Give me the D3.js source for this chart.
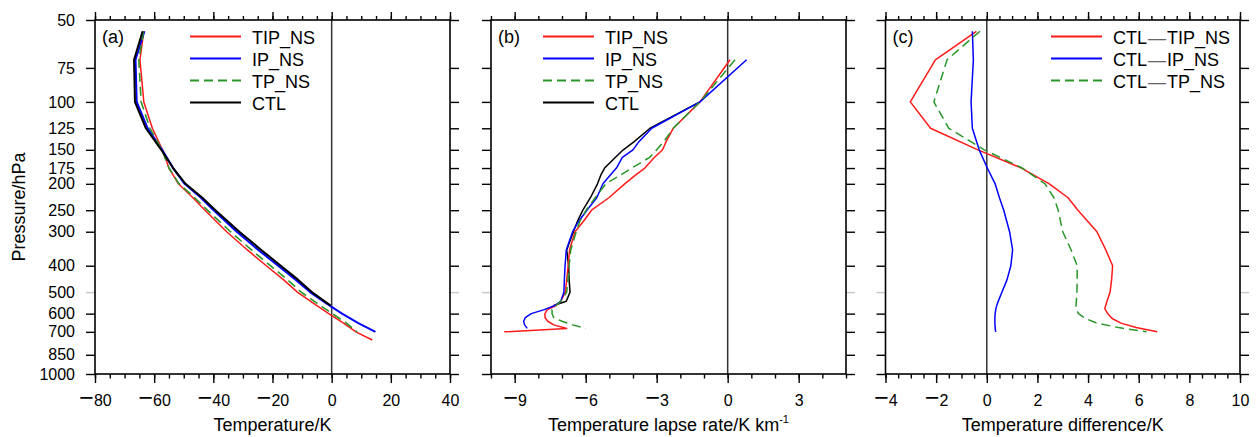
<!DOCTYPE html>
<html><head><meta charset="utf-8">
<script src="https://cdn.jsdelivr.net/npm/d3@7"></script>
<style>
body{margin:0;background:#fff;}
svg{display:block;font-family:"Liberation Sans",Arial,Helvetica,sans-serif;}
</style></head><body>
<svg id="chart" width="1259" height="437"></svg>
<script>
// ---------- data ----------
const seriesNames = ["TIP_NS", "IP_NS", "TP_NS", "CTL"];
const diffNames = [["CTL", "TIP_NS"], ["CTL", "IP_NS"], ["CTL", "TP_NS"]];
const pressureTicks = [50, 75, 100, 125, 150, 175, 200, 250, 300, 400, 500, 600, 700, 850, 1000];

// panel (a): temperature
const pA = [55, 70, 100, 125, 150, 175, 200, 225, 250, 300, 350, 400, 450, 500, 550, 560, 600, 650, 700, 750];
const tempTIP = [-63.5, -64.8, -63.5, -60.6, -57.2, -55.0, -51.8, -46.9, -42.8, -35.5, -28.5, -22.1, -16.3, -11.6, -6.1, null, -1.0, 4.0, 8.2, 13.7];
const tempIP  = [-63.3, -66.3, -65.9, -62.2, -57.3, -53.6, -49.7, -44.2, -39.9, -32.1, -24.8, -18.1, -12.2, -7.3, -1.8, null, 3.5, 9.0, 14.8, null];
const tempTP  = [-63.6, -65.2, -64.4, -61.4, -57.4, -55.0, -51.6, -46.3, -42.0, -34.2, -27.1, -20.7, -15.0, -10.3, -4.9, null, 0.2, 5.0, 8.6, null];
const tempCTL = [-63.9, -66.8, -66.5, -62.8, -57.6, -53.6, -49.4, -43.7, -39.3, -31.2, -23.8, -17.2, -11.4, -6.7, -1.4, -0.3, null, null, null, null];

// panel (b): lapse rate (K/km)
const pB = [70, 100, 125, 140, 150, 160, 175, 185, 200, 225, 250, 275, 300, 350, 400, 450, 500, 540, 560, 580, 600, 620, 640, 660, 680, 700];
const lapseTIP = [0.1, -1.17, -2.3, -2.6, -2.75, -3.1, -3.5, -3.87, -4.35, -5.02, -5.75, -6.1, -6.45, -6.68, -6.74, -6.8, -6.86, -7.05, -7.25, -7.62, -7.72, -7.72, -7.6, -7.35, -6.8, -9.44];
const lapseIP  = [0.8, -1.17, -3.21, -3.75, -4.0, -4.45, -4.7, -4.94, -5.27, -5.53, -5.95, -6.3, -6.55, -6.82, -6.87, -6.9, -6.92, -7.05, -7.3, -7.75, -8.3, -8.55, -8.62, -8.58, -8.47, null];
const lapseTP  = [0.31, -1.17, -2.3, -2.7, -3.0, -3.3, -4.05, -4.5, -5.15, -5.6, -5.98, -6.25, -6.4, -6.63, -6.7, -6.75, -6.8, -7.05, -7.25, -7.42, -7.42, -7.35, -7.0, -6.55, -6.0, null];
const lapseCTL = [null, -1.17, -3.28, -3.95, -4.41, -4.75, -5.2, -5.35, -5.5, -5.8, -6.12, -6.35, -6.52, -6.8, -6.72, -6.7, -6.66, -6.82, -7.35, null, null, null, null, null, null, null];

// panel (c): temperature difference (K)
const pC = [55, 70, 100, 125, 150, 175, 200, 225, 250, 300, 350, 400, 450, 500, 550, 575, 600, 625, 650, 675, 700];
const diffTIP = [-0.41, -2.03, -3.02, -2.22, -0.35, 1.37, 2.47, 3.21, 3.6, 4.35, 4.7, 4.97, 4.93, 4.87, 4.72, 4.66, 4.78, 4.95, 5.3, 5.9, 6.73];
const diffIP  = [-0.57, -0.53, -0.62, -0.57, -0.3, 0.02, 0.33, 0.5, 0.67, 0.9, 1.02, 0.95, 0.8, 0.6, 0.42, 0.36, 0.33, 0.32, 0.32, 0.33, 0.35];
const diffTP  = [-0.27, -1.57, -2.09, -1.5, -0.1, 1.4, 2.3, 2.65, 2.82, 3.0, 3.33, 3.57, 3.57, 3.56, 3.53, 3.52, 3.62, 3.9, 4.34, 5.2, 6.31];

// x tick values
const ticksA = [-80, -60, -40, -20, 0, 20, 40];
const ticksB = [-9, -6, -3, 0, 3];
const ticksC = [-4, -2, 0, 2, 4, 6, 8, 10];

// ---------- styles ----------
const RED = "#ff1a1a", BLUE = "#0000ff", GREEN = "#2a962a", BLACK = "#000";
const FONT = 18, TICKFONT = 16;

const svg = d3.select("#chart");
const Y0 = 20, Y1 = 374;
const y = d3.scaleLog().domain([50, 1000]).range([Y0, Y1]);

function pairs(p, v) { return p.map((pp, i) => [pp, v[i]]).filter(d => d[1] != null); }

function setLabel(t, v) {
  t.text(null);
  if (v < 0) t.append("tspan").attr("font-size", 25).text("\u2212");
  t.append("tspan").attr("font-size", TICKFONT).text(Math.abs(v));
}

function panel(cfg) {
  const x = d3.scaleLinear().domain(cfg.domain).range([cfg.x0, cfg.x1]);
  const g = svg.append("g");
  const minor = d3.range(cfg.domain[0], cfg.domain[1] + 1e-9, cfg.minorStep).map(v => +v.toFixed(3));

  // zero line
  g.append("line").attr("x1", x(0)).attr("x2", x(0)).attr("y1", Y0).attr("y2", Y1)
    .attr("stroke", "#333").attr("stroke-width", 1.5);

  // series
  const line = d3.line().x(d => x(d[1])).y(d => y(d[0]));
  cfg.series.forEach(s => {
    g.append("path").datum(pairs(cfg.p, s.v)).attr("d", line)
      .attr("fill", "none").attr("stroke", s.color).attr("stroke-width", s.w || 1.5)
      .attr("stroke-dasharray", s.dash ? "9,5" : null).attr("stroke-linejoin", "round");
  });

  // axes
  const axStyle = sel => { sel.select(".domain").remove(); sel.selectAll("line").attr("stroke", "#000").attr("stroke-width", 1.4); };
  g.append("g").attr("transform", `translate(0,${Y1})`)
    .call(d3.axisBottom(x).tickValues(minor).tickSize(4.5).tickFormat("")).call(axStyle);
  const bx = g.append("g").attr("transform", `translate(0,${Y1})`)
    .call(d3.axisBottom(x).tickValues(cfg.major).tickSize(9)).call(axStyle);
  bx.selectAll("text").attr("y", 32).attr("dy", 0).attr("font-size", TICKFONT)
    .attr("font-family", "Liberation Sans, Arial, sans-serif").attr("fill", "#000")
    .each(function (v) { setLabel(d3.select(this), v); });
  g.append("g").attr("transform", `translate(0,${Y0})`)
    .call(d3.axisTop(x).tickValues(minor).tickSize(4).tickFormat("")).call(axStyle);
  g.append("g").attr("transform", `translate(0,${Y0})`)
    .call(d3.axisTop(x).tickValues(cfg.major).tickSize(8).tickFormat("")).call(axStyle);

  const ly = g.append("g").attr("transform", `translate(${cfg.x0},0)`)
    .call(d3.axisLeft(y).tickValues(pressureTicks).tickSize(9).tickFormat(cfg.yLabels ? d3.format("d") : "")).call(axStyle);
  ly.selectAll(".tick").filter(d => d === 500).select("line").attr("stroke", "#c8c8c8");
  ly.selectAll("text").attr("x", -20).attr("font-size", TICKFONT)
    .attr("font-family", "Liberation Sans, Arial, sans-serif").attr("fill", "#000");
  const ry = g.append("g").attr("transform", `translate(${cfg.x1},0)`)
    .call(d3.axisRight(y).tickValues(pressureTicks).tickSize(9).tickFormat("")).call(axStyle);
  ry.selectAll(".tick").filter(d => d === 500).select("line").attr("stroke", "#c8c8c8");

  // frame
  g.append("rect").attr("x", cfg.x0).attr("y", Y0).attr("width", cfg.x1 - cfg.x0).attr("height", Y1 - Y0)
    .attr("fill", "none").attr("stroke", "#000").attr("stroke-width", 1.6);

  // panel label
  g.append("text").attr("x", cfg.x0 + 7).attr("y", 43).attr("font-size", FONT).text(cfg.label);

  // legend
  cfg.legend.forEach((L, i) => {
    const ry0 = 36.5 + i * 22;
    g.append("line").attr("x1", cfg.legX).attr("x2", cfg.legX + 51).attr("y1", ry0).attr("y2", ry0)
      .attr("stroke", L.color).attr("stroke-width", L.lw || 1.8).attr("stroke-dasharray", L.dash ? "9,5" : null);
    const t = g.append("text").attr("x", cfg.legX + 62).attr("y", ry0 + 7.5).attr("font-size", FONT);
    if (Array.isArray(L.name)) {
      t.append("tspan").text(L.name[0]);
      t.append("tspan").attr("fill", "#666").attr("dx", 1).text("\u2014");
      t.append("tspan").attr("dx", 1).text(L.name[1]);
    } else t.text(L.name);
  });

  // x title
  const tt = g.append("text").attr("x", (cfg.x0 + cfg.x1) / 2).attr("y", 431).attr("text-anchor", "middle")
    .attr("font-size", FONT);
  tt.append("tspan").text(cfg.title);
  if (cfg.sup) tt.append("tspan").attr("font-size", 11).attr("dy", -8).text(cfg.sup);
}

panel({
  x0: 95, x1: 450, domain: [-80, 40], major: ticksA, minorStep: 5, yLabels: true, label: "(a)",
  p: pA,
  series: [
    { v: tempTIP, color: RED, w: 1.5 },
    { v: tempIP, color: BLUE, w: 2 },
    { v: tempTP, color: GREEN, w: 1.6, dash: true },
    { v: tempCTL, color: BLACK, w: 2 }
  ],
  legX: 190,
  legend: [
    { name: seriesNames[0], color: RED }, { name: seriesNames[1], color: BLUE },
    { name: seriesNames[2], color: GREEN, dash: true }, { name: seriesNames[3], color: BLACK }
  ],
  title: "Temperature/K"
});

panel({
  x0: 491, x1: 846, domain: [-10, 5], major: ticksB, minorStep: 1, yLabels: false, label: "(b)",
  p: pB,
  series: [
    { v: lapseCTL, color: BLACK, w: 1.5 },
    { v: lapseTIP, color: RED, w: 1.5 },
    { v: lapseIP, color: BLUE, w: 1.5 },
    { v: lapseTP, color: GREEN, w: 1.5, dash: true }
  ],
  legX: 543,
  legend: [
    { name: seriesNames[0], color: RED }, { name: seriesNames[1], color: BLUE },
    { name: seriesNames[2], color: GREEN, dash: true }, { name: seriesNames[3], color: BLACK }
  ],
  title: "Temperature lapse rate/K km", sup: "-1"
});

panel({
  x0: 885.5, x1: 1240, domain: [-4, 10], major: ticksC, minorStep: 0.5, yLabels: false, label: "(c)",
  p: pC,
  series: [
    { v: diffTIP, color: RED, w: 1.5 },
    { v: diffIP, color: BLUE, w: 1.5 },
    { v: diffTP, color: GREEN, w: 1.5, dash: true }
  ],
  legX: 1051,
  legend: [
    { name: diffNames[0], color: RED }, { name: diffNames[1], color: BLUE },
    { name: diffNames[2], color: GREEN, dash: true }
  ],
  title: "Temperature difference/K"
});

// y title
svg.append("text").attr("transform", "translate(25,207) rotate(-90)").attr("text-anchor", "middle")
  .attr("font-size", FONT).text("Pressure/hPa");
</script>
</body></html>
